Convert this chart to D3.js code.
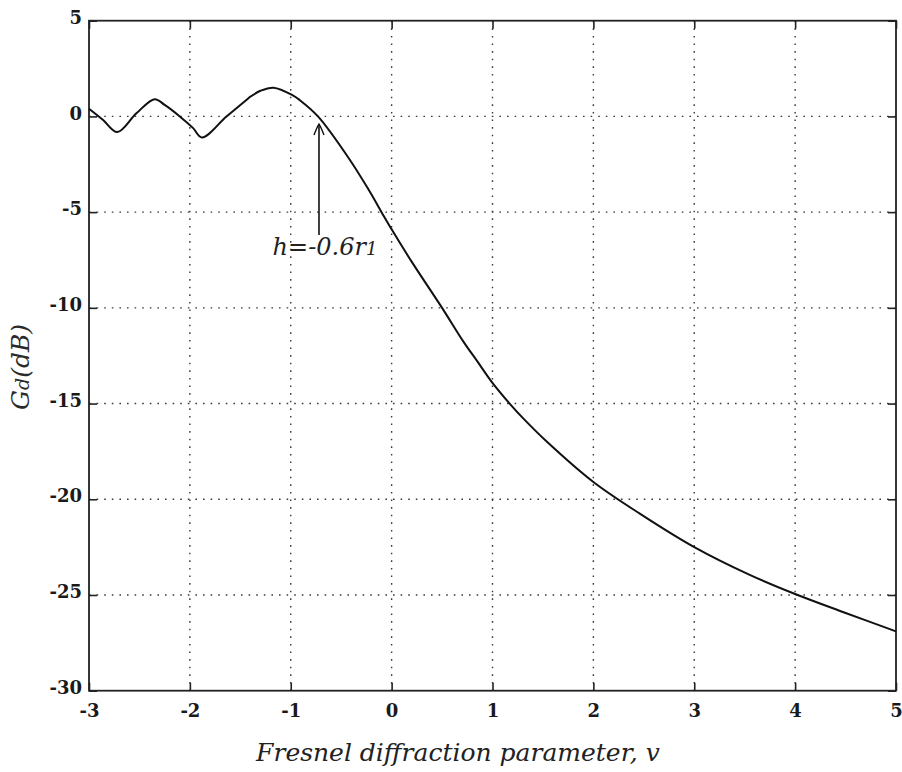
<!DOCTYPE html>
<html>
<head>
<meta charset="utf-8">
<script src="https://cdn.jsdelivr.net/npm/d3@7/dist/d3.min.js"></script>
<style>
  html, body { margin: 0; padding: 0; background: #fff; }
  svg { display: block; }
  .tick text { font-family: "DejaVu Serif", serif; font-weight: bold; font-size: 18px; fill: #1a1a1a; }
</style>
</head>
<body>
<svg id="chart" width="902" height="772"></svg>
<script>
// Fresnel parameter v and diffraction gain Gd (dB)
const vValues = [-3.00, -2.86, -2.72, -2.53, -2.35, -2.25, -2.10, -1.97, -1.88, -1.64,
  -1.44, -1.40, -1.30, -1.17, -0.98, -0.91, -0.73, -0.41, -0.22, -0.10,
  0.00, 0.20, 0.50, 0.71, 0.85, 0.99, 1.17, 1.30, 1.54, 2.00,
  2.46, 3.00, 3.55, 4.00, 4.48, 5.00];
const gainDb = [0.40, -0.19, -0.82, 0.16, 0.90, 0.60, 0.00, -0.60, -1.10, -0.02,
  0.86, 1.03, 1.34, 1.50, 1.10, 0.85, 0.00, -2.30, -3.90, -5.00,
  -5.90, -7.60, -10.00, -11.75, -12.80, -13.85, -15.00, -15.75, -17.00, -19.10,
  -20.75, -22.50, -23.95, -24.95, -25.90, -26.90];
const xTicks = [-3, -2, -1, 0, 1, 2, 3, 4, 5];
const yTicks = [5, 0, -5, -10, -15, -20, -25, -30];

// annotation: arrow pointing at h = -0.6 r1
const noteV = -0.72;
const noteFrom = -6.2;
const noteTo = -0.4;
const noteTextV = -1.18;
const noteTextG = -7.25;

const svg = d3.select('#chart');
const plot = { left: 89, right: 896, top: 20.7, bottom: 690.7 };

const x = d3.scaleLinear().domain([-3, 5]).range([plot.left, plot.right]);
const y = d3.scaleLinear().domain([-30, 5]).range([plot.bottom, plot.top]);
const label = d => String(d); // plain hyphen minus like the original

// dotted grid
const grid = svg.append('g')
  .attr('stroke', '#3a3a3a')
  .attr('stroke-width', 1.4)
  .attr('stroke-dasharray', '1.6,6');
grid.selectAll('line.gx').data(xTicks.slice(1, -1)).enter().append('line')
  .attr('class', 'gx')
  .attr('x1', d => x(d)).attr('x2', d => x(d))
  .attr('y1', plot.top).attr('y2', plot.bottom);
grid.selectAll('line.gy').data(yTicks.slice(1, -1)).enter().append('line')
  .attr('class', 'gy')
  .attr('y1', d => y(d)).attr('y2', d => y(d))
  .attr('x1', plot.left).attr('x2', plot.right);

// axes (ticks inward, matlab style)
const axBottom = svg.append('g')
  .attr('transform', `translate(0,${plot.bottom})`)
  .call(d3.axisBottom(x).tickValues(xTicks).tickFormat(label)
    .tickSizeInner(-8).tickSizeOuter(0).tickPadding(14));
const axLeft = svg.append('g')
  .attr('transform', `translate(${plot.left},0)`)
  .call(d3.axisLeft(y).tickValues(yTicks).tickFormat(label)
    .tickSizeInner(-8).tickSizeOuter(0).tickPadding(7));
axLeft.selectAll('.tick text').attr('dy', '0.15em');
const axTop = svg.append('g')
  .attr('transform', `translate(0,${plot.top})`)
  .call(d3.axisTop(x).tickValues(xTicks).tickFormat('').tickSizeInner(-8).tickSizeOuter(0));
const axRight = svg.append('g')
  .attr('transform', `translate(${plot.right},0)`)
  .call(d3.axisRight(y).tickValues(yTicks).tickFormat('').tickSizeInner(-8).tickSizeOuter(0));
[axBottom, axLeft, axTop, axRight].forEach((g) => {
  g.select('.domain').remove();
  g.selectAll('.tick line').attr('stroke', '#222').attr('stroke-width', 1.6);
});

// frame
svg.append('rect')
  .attr('x', plot.left).attr('y', plot.top)
  .attr('width', plot.right - plot.left).attr('height', plot.bottom - plot.top)
  .attr('fill', 'none').attr('stroke', '#222').attr('stroke-width', 1.8);

// curve
const pts = vValues.map((v, i) => [v, gainDb[i]]);
const line = d3.line()
  .x(d => x(d[0]))
  .y(d => y(d[1]))
  .curve(d3.curveCatmullRom.alpha(0.5));
svg.append('path')
  .datum(pts)
  .attr('d', line)
  .attr('fill', 'none')
  .attr('stroke', '#111')
  .attr('stroke-width', 2);

// arrow annotation
const ax = x(noteV);
const tipY = y(noteTo);
svg.append('line')
  .attr('x1', ax).attr('x2', ax)
  .attr('y1', y(noteFrom)).attr('y2', tipY)
  .attr('stroke', '#111').attr('stroke-width', 1.6);
svg.append('path')
  .attr('d', `M${ax - 5},${tipY + 11} Q${ax - 2},${tipY + 3} ${ax},${tipY} Q${ax + 2},${tipY + 3} ${ax + 5},${tipY + 11}`)
  .attr('fill', 'none').attr('stroke', '#111').attr('stroke-width', 1.4);
const note = svg.append('text')
  .attr('x', x(noteTextV)).attr('y', y(noteTextG))
  .attr('font-family', '"DejaVu Serif", serif')
  .attr('font-style', 'italic')
  .attr('font-size', 24)
  .attr('fill', '#222')
  .text('h=-0.6r');
note.append('tspan').attr('font-size', 18).text('1');

// axis titles
svg.append('text')
  .attr('x', 458).attr('y', 761)
  .attr('text-anchor', 'middle')
  .attr('font-family', '"DejaVu Serif", serif')
  .attr('font-style', 'italic')
  .attr('font-size', 25)
  .attr('fill', '#222')
  .text('Fresnel diffraction parameter, v');

const yTitle = svg.append('text')
  .attr('transform', 'translate(29,367) rotate(-90)')
  .attr('text-anchor', 'middle')
  .attr('font-family', '"DejaVu Serif", serif')
  .attr('font-style', 'italic')
  .attr('font-size', 25)
  .attr('fill', '#2a2a2a')
  .text('G');
yTitle.append('tspan').attr('font-size', 19).text('d');
yTitle.append('tspan').text('(dB)');
</script>
</body>
</html>
